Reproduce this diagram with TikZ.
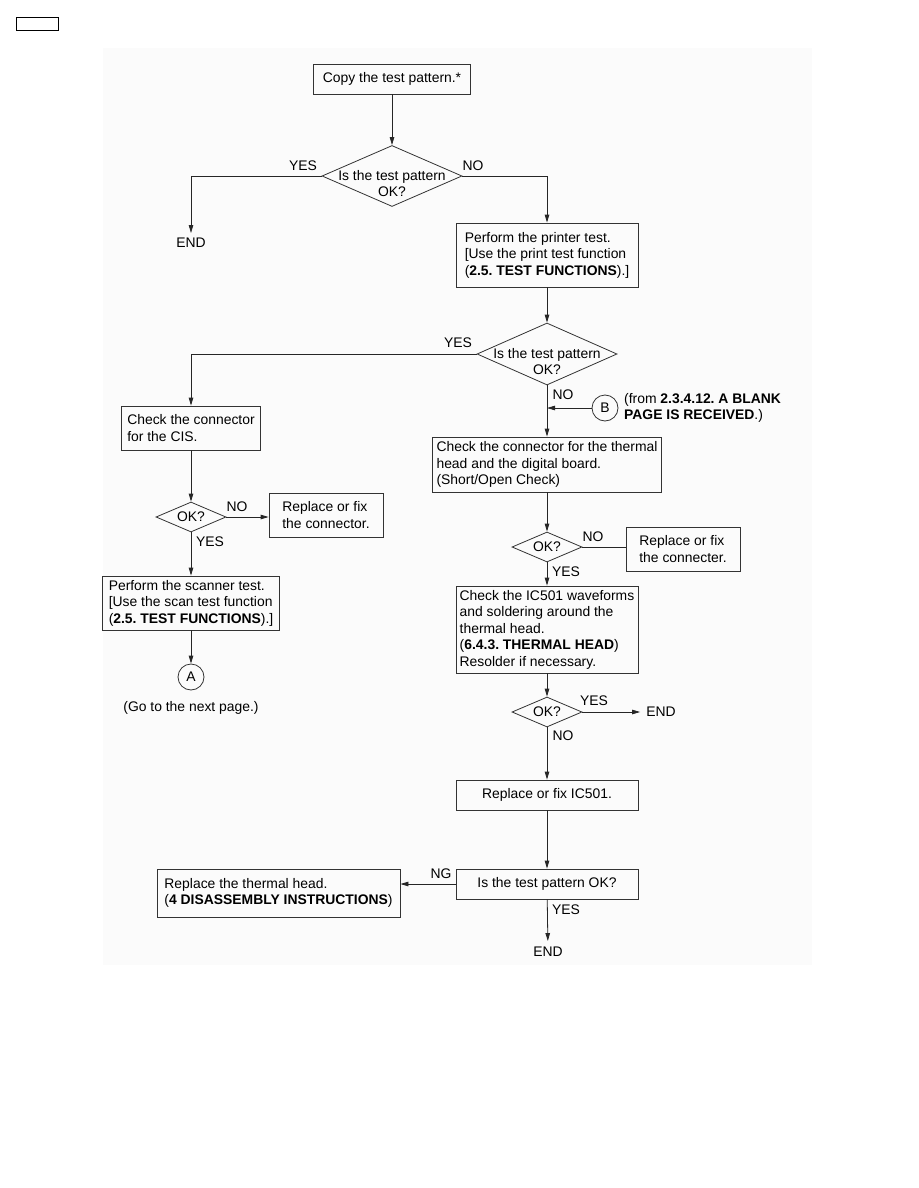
\documentclass[tikz,border=0pt]{standalone}
\usepackage{fontspec}
\setmainfont{Liberation Sans}
\usetikzlibrary{shapes,arrows.meta,positioning,calc}
\frenchspacing

\begin{document}
\begin{tikzpicture}[
    x=1pt, y=-1pt,
    every node/.style={font=\fontsize{13.9}{16.5}\selectfont},
    box/.style={rectangle, draw=black!80, line width=0.8pt, align=left, inner sep=0pt},
    decision/.style={diamond, draw=black!80, line width=0.8pt, inner sep=0pt},
    conn/.style={circle, draw=black!80, line width=0.8pt, minimum size=26pt, inner sep=0pt},
    txt/.style={inner sep=1pt},
    arrow/.style={-{Triangle[length=8pt,width=4.5pt]}, line width=0.8pt, draw=black!85},
    line/.style={line width=0.8pt, draw=black!85}
]
    \useasboundingbox (0,0) rectangle (918,1188);
    \fill[black!1.5] (103,48) rectangle (812,965);
    \draw[line width=0.8pt] (16,17) rectangle (58,30);

    % right column
    \node [box, minimum width=157pt, minimum height=30pt] (copy) at (392,79) {Copy the test pattern.*};
    \node [decision, minimum width=140pt, minimum height=61pt,
           label={[align=center, yshift=-7.5pt]center:Is the test pattern\\OK?}] (chk1) at (392,176) {};
    \node [txt] (end1) at (191,243) {END};
    \node [box, minimum width=182pt, minimum height=64pt] (prn) at (547,255)
        {Perform the printer test.\\{}[Use the print test function\\(\textbf{2.5. TEST FUNCTIONS}).]};
    \node [decision, minimum width=140pt, minimum height=62pt,
           label={[align=center, yshift=-7.5pt]center:Is the test pattern\\OK?}] (chk2) at (547,354) {};
    \node [conn] (b) at (605,408) {B};
    \node [txt, anchor=west, align=left] (bnote) at (623,408)
        {(from \textbf{2.3.4.12. A BLANK}\\\textbf{PAGE IS RECEIVED}.)};
    \node [box, minimum width=229pt, minimum height=55pt] (thm) at (547,464.5)
        {Check the connector for the thermal\\head and the digital board.\\(Short/Open Check)};
    \node [decision, minimum width=70pt, minimum height=30pt, label=center:OK?] (ok2) at (547,547) {};
    \node [box, minimum width=114pt, minimum height=44pt] (fix2) at (683,549) {Replace or fix\\the connecter.};
    \node [box, minimum width=182pt, minimum height=87pt] (ic) at (547,629.5)
        {Check the IC501 waveforms\\and soldering around the\\thermal head.\\(\textbf{6.4.3. THERMAL HEAD})\\Resolder if necessary.};
    \node [decision, minimum width=70pt, minimum height=30pt, label=center:OK?] (ok3) at (547,712) {};
    \node [txt] (end2) at (661,712) {END};
    \node [box, minimum width=182pt, minimum height=30pt] (rep) at (547,795) {Replace or fix IC501.};
    \node [box, minimum width=182pt, minimum height=30pt] (tst) at (547,884) {Is the test pattern OK?};
    \node [box, minimum width=243pt, minimum height=48pt] (head) at (278.5,893)
        {Replace the thermal head.\\(\textbf{4 DISASSEMBLY INSTRUCTIONS})};
    \node [txt] (end3) at (548,952) {END};

    % left column
    \node [box, minimum width=139pt, minimum height=44pt] (cis) at (191,428) {Check the connector\\for the CIS.};
    \node [decision, minimum width=70pt, minimum height=30pt, label=center:OK?] (ok1) at (191,517) {};
    \node [box, minimum width=114pt, minimum height=44pt] (fix1) at (326,515) {Replace or fix\\the connector.};
    \node [box, minimum width=177pt, minimum height=54pt] (scan) at (191,603)
        {Perform the scanner test.\\{}[Use the scan test function\\(\textbf{2.5. TEST FUNCTIONS}).]};
    \node [conn] (a) at (191,677) {A};
    \node [txt] (next) at (191,708) {(Go to the next page.)};

    % branch labels
    \node [txt] (y1) at (303,166) {YES};
    \node [txt] (n1) at (473,166) {NO};
    \node [txt] (y2) at (458,343) {YES};
    \node [txt] (n2) at (563,395) {NO};
    \node [txt] (n3) at (237,507) {NO};
    \node [txt] (y3) at (210,542) {YES};
    \node [txt] (n4) at (593,537) {NO};
    \node [txt] (y4) at (566,572) {YES};
    \node [txt] (y5) at (594,701) {YES};
    \node [txt] (n5) at (563,736) {NO};
    \node [txt] (ng) at (441,874) {NG};
    \node [txt] (y6) at (566,910) {YES};

    \draw [arrow] (copy) -- (chk1);
    \draw [arrow, shorten >=4pt] (chk1.west) -| (end1.north);
    \draw [arrow] (chk1.east) -| (prn.north);
    \draw [arrow] (prn) -- (chk2);
    \draw [arrow] (chk2.west) -| (cis.north);
    \draw [arrow] (chk2) -- (thm);
    \draw [arrow] (b) -- (b -| thm.north);
    \draw [arrow] (thm) -- (ok2);
    \draw [line] (ok2.east) -- (ok2.east -| fix2.west);
    \draw [arrow] (ok2) -- (ic);
    \draw [arrow] (ic) -- (ok3);
    \draw [arrow, shorten >=5pt] (ok3.east) -- (end2.west);
    \draw [arrow] (ok3) -- (rep);
    \draw [arrow] (rep) -- (tst);
    \draw [arrow] (tst.west) -- (tst.west -| head.east);
    \draw [arrow, shorten >=5pt] (tst) -- (end3);
    \draw [arrow] (cis) -- (ok1);
    \draw [arrow] (ok1.east) -- (ok1.east -| fix1.west);
    \draw [arrow] (ok1) -- (scan);
    \draw [arrow] (scan) -- (a);
\end{tikzpicture}
\end{document}
